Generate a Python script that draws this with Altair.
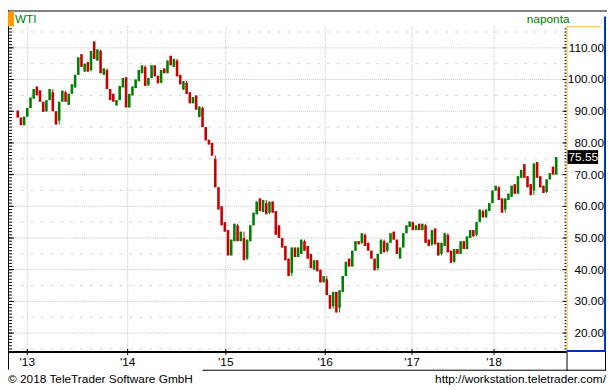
import altair as alt
import pandas as pd

# ---- data (bar index, open, close) ----
opens = [90.2, 88.0, 85.6, 88.3, 91.0, 94.0, 97.8, 96.6, 93.0, 90.0,
         93.5, 96.0, 90.0, 87.0, 93.0, 96.0, 92.0, 95.5, 97.5, 101.5,
         108.0, 102.5, 105.5, 103.0, 112.0, 106.0, 109.0, 101.5, 103.0, 97.0,
         95.5, 91.8, 93.5, 97.5, 100.7, 91.2, 95.0, 97.3, 99.5, 102.0,
         104.0, 98.2, 100.5, 104.5, 101.2, 99.0, 103.5, 102.0, 107.5, 104.0,
         106.0, 101.5, 96.8, 99.0, 96.0, 92.5, 95.0, 88.2, 91.0, 85.0,
         81.0, 80.0, 75.0, 66.0, 60.0, 55.0, 52.5, 44.5, 49.0, 54.0,
         49.0, 50.0, 43.5, 49.0, 54.0, 57.5, 62.5, 58.2, 61.0, 58.0,
         61.5, 58.5, 54.0, 50.0, 47.5, 43.5, 39.0, 47.0, 44.0, 45.0,
         49.0, 47.5, 45.0, 40.0, 43.0, 40.0, 36.0, 37.0, 32.0, 28.5,
         33.0, 28.0, 33.0, 38.0, 43.5, 41.0, 46.0, 49.0, 48.5, 51.0,
         48.5, 46.0, 43.5, 40.5, 45.0, 49.0, 46.0, 48.5, 52.0, 49.5,
         43.5, 47.0, 51.5, 53.5, 55.0, 52.5, 54.5, 52.5, 54.0, 49.5,
         48.0, 53.0, 48.5, 45.0, 47.5, 51.0, 46.0, 42.5, 46.5, 45.0,
         49.0, 46.5, 50.0, 52.5, 51.0, 55.0, 58.5, 56.5, 58.5, 61.0,
         65.0, 66.0, 62.5, 59.0, 62.0, 63.0, 67.0, 64.0, 69.0, 73.3,
         69.5, 67.0, 65.0, 74.0, 69.5, 66.5, 64.5, 68.5, 72.5, 70.0]
closes = [88.0, 85.6, 88.3, 91.0, 94.3, 97.0, 95.0, 93.0, 89.8, 93.5,
          97.0, 90.0, 85.8, 93.0, 96.5, 93.0, 95.5, 98.5, 101.5, 107.0,
          104.0, 105.0, 102.5, 109.0, 106.5, 109.5, 102.0, 103.5, 97.0, 93.5,
          93.0, 93.5, 98.0, 100.5, 91.2, 95.5, 97.8, 100.0, 103.0, 104.5,
          98.0, 100.5, 104.5, 101.0, 98.8, 103.0, 102.0, 106.0, 104.5, 106.5,
          101.0, 98.5, 99.5, 95.5, 92.5, 94.5, 90.5, 91.5, 85.0, 80.8,
          79.5, 76.0, 66.0, 59.0, 54.0, 52.0, 44.5, 49.5, 54.5, 49.0,
          52.0, 43.0, 49.5, 54.0, 58.0, 61.5, 58.5, 62.0, 57.5, 61.5,
          58.0, 51.0, 50.0, 47.0, 43.0, 38.0, 47.0, 44.0, 47.0, 49.5,
          46.0, 43.5, 40.5, 43.0, 39.5, 36.0, 38.0, 32.0, 27.7, 33.0,
          26.5, 33.5, 38.0, 42.5, 41.0, 46.0, 49.0, 48.0, 51.5, 47.5,
          46.0, 43.5, 39.8, 45.0, 49.5, 45.5, 48.5, 51.5, 49.5, 45.0,
          47.0, 51.5, 54.0, 55.2, 52.5, 54.0, 52.5, 54.5, 48.5, 47.5,
          52.5, 48.0, 44.5, 48.5, 51.5, 45.5, 42.2, 46.5, 45.0, 49.0,
          46.5, 50.5, 52.5, 50.5, 55.0, 59.0, 56.5, 59.0, 61.0, 65.0,
          66.5, 62.0, 58.0, 62.5, 64.0, 66.5, 64.0, 69.5, 71.5, 69.0,
          66.0, 63.5, 73.5, 69.0, 66.0, 64.2, 68.5, 70.5, 70.0, 75.55]

year_labels = ["'13", "'14", "'15", "'16", "'17", "'18"]
year_pos = [3.0, 34.5, 65.3, 96.5, 123.75, 149.5]   # bar index where each year starts
major_levels = [20, 30, 40, 50, 60, 70, 80, 90, 100, 110]
half_levels = [15, 25, 35, 45, 55, 65, 75, 85, 95, 105, 115]
minor_levels = list(range(15, 117))
last_price = [75.55]

# ---- layout ----
W, H = 565, 329
FONT = "Liberation Sans"
GREEN, RED = "#008000", "#c80000"
GRID = "#c4c4c4"

xs = alt.Scale(domain=[-1.2, 170.7], nice=False, zero=False)
ys = alt.Scale(domain=[14.36, 116.8], nice=False, zero=False)

prev = [opens[0]] + closes[:-1]
bars = pd.DataFrame({"i": list(range(len(opens))), "open": opens, "close": closes})
bars["lo"] = [min(o, c, p) for o, c, p in zip(opens, closes, prev)]
bars["hi"] = [max(o, c, p) for o, c, p in zip(opens, closes, prev)]
bars["dir"] = ["up" if c >= o else "down" for o, c in zip(opens, closes)]
years = pd.DataFrame({"pos": year_pos, "lab": year_labels})
major_df = pd.DataFrame({"v": major_levels, "t": [f"{v:.2f}" for v in major_levels]})
half_df = pd.DataFrame({"v": half_levels})
minor_df = pd.DataFrame({"v": minor_levels})
last_df = pd.DataFrame({"p": last_price, "t": [f"{p:.2f}" for p in last_price]})
one = pd.DataFrame({"a": [0]})

Y = lambda f: alt.Y(f, scale=ys, axis=None)
X = lambda f: alt.X(f, scale=xs, axis=None)

grid10 = alt.Chart(major_df).mark_rule(color=GRID, strokeDash=[1, 1]).encode(
    y=Y("v:Q"), x=alt.value(0), x2=alt.value(W))
grid5 = alt.Chart(half_df).mark_rule(color="#d4d4d4", strokeDash=[3, 7], strokeDashOffset=-2).encode(
    y=Y("v:Q"), x=alt.value(0), x2=alt.value(W))
gridx = alt.Chart(years).mark_rule(color=GRID, strokeDash=[1, 1]).encode(
    x=X("pos:Q"), y=alt.value(0), y2=alt.value(H))

dir_color = alt.Color("dir:N", scale=alt.Scale(domain=["up", "down"], range=[GREEN, RED]),
                      legend=None)
wicks = alt.Chart(bars).mark_rule(strokeWidth=1).encode(
    x=X("i:Q"), y=Y("lo:Q"), y2="hi:Q", color=dir_color)
candles = alt.Chart(bars).mark_bar(size=2.6).encode(
    x=X("i:Q"), y=Y("open:Q"), y2="close:Q", color=dir_color)

# price labels on the right
ylabels = alt.Chart(major_df).mark_text(font=FONT, fontSize=12, color="black",
                                        align="right", baseline="middle").encode(
    y=Y("v:Q"), x=alt.value(W + 38), text="t:N")

# ticks on the left and right edges of the plot
lminor = alt.Chart(minor_df).mark_rule(color="black").encode(
    y=Y("v:Q"), x=alt.value(0), x2=alt.value(3))
lmajor = alt.Chart(major_df).mark_rule(color="black").encode(
    y=Y("v:Q"), x=alt.value(0), x2=alt.value(5))
rminor = alt.Chart(minor_df).mark_rule(color="black").encode(
    y=Y("v:Q"), x=alt.value(W - 2), x2=alt.value(W))
rmajor = alt.Chart(major_df).mark_rule(color="black").encode(
    y=Y("v:Q"), x=alt.value(W - 4), x2=alt.value(W))

# frame lines
base1 = alt.Chart(one)
top_line = base1.mark_rule(color="black").encode(
    x=alt.value(-1), x2=alt.value(W + 41), y=alt.value(-15.5))
left_line = base1.mark_rule(color="black").encode(
    x=alt.value(-0.5), y=alt.value(-16), y2=alt.value(H + 19))
yellow_v = base1.mark_rule(color="#f0c030").encode(
    x=alt.value(W + 0.5), y=alt.value(0), y2=alt.value(H))
yellow_h = base1.mark_rule(color="#f0c030").encode(
    x=alt.value(W), x2=alt.value(W + 35), y=alt.value(0.5))
blue_v = base1.mark_rule(color="#0030c0", strokeWidth=2).encode(
    x=alt.value(W + 39), y=alt.value(-10), y2=alt.value(H))
blue_h = base1.mark_rule(color="#0030c0", strokeWidth=2).encode(
    x=alt.value(W), x2=alt.value(W + 40), y=alt.value(H))
axis_line = base1.mark_rule(color="black", strokeWidth=2).encode(
    x=alt.value(-1), x2=alt.value(W), y=alt.value(H + 1))
band_bottom = base1.mark_rule(color="black").encode(
    x=alt.value(196), x2=alt.value(W + 40), y=alt.value(H + 19.5))
box_right = base1.mark_rule(color="black").encode(
    x=alt.value(W + 39.5), y=alt.value(H + 1), y2=alt.value(H + 20))
box_left = base1.mark_rule(color="black").encode(
    x=alt.value(W + 0.5), y=alt.value(H + 1), y2=alt.value(H + 20))

year_ticks = alt.Chart(years).mark_rule(color="black").encode(
    x=X("pos:Q"), y=alt.value(H - 2), y2=alt.value(H + 4))
year_text = alt.Chart(years).mark_text(font=FONT, fontSize=12, color="black",
                                       align="center", baseline="middle").encode(
    x=X("pos:Q"), y=alt.value(H + 11), text="lab:N")

# header
orange = base1.mark_rect(color="#ff9900").encode(
    x=alt.value(-1), x2=alt.value(5), y=alt.value(-15), y2=alt.value(0))
wti = base1.mark_text(text="WTI", font=FONT, fontSize=12, color=GREEN,
                      align="left", baseline="middle").encode(
    x=alt.value(6), y=alt.value(-7))
nap = base1.mark_text(text="naponta", font=FONT, fontSize=12, color=GREEN,
                      align="right", baseline="middle").encode(
    x=alt.value(W + 3), y=alt.value(-7))

# footer
copy_t = base1.mark_text(text="\u00a9 2018 TeleTrader Software GmbH", font=FONT,
                         fontSize=12, color="black", align="left",
                         baseline="middle").encode(x=alt.value(-1), y=alt.value(H + 28))
url_t = base1.mark_text(text="http://workstation.teletrader.com/", font=FONT,
                        fontSize=12, color="black", align="right",
                        baseline="middle").encode(x=alt.value(W + 40), y=alt.value(H + 28))

# last price marker
last_box = alt.Chart(last_df).mark_rule(color="black", strokeWidth=14).encode(
    y=Y("p:Q"), x=alt.value(W + 1), x2=alt.value(W + 32))
last_txt = alt.Chart(last_df).mark_text(font=FONT, fontSize=12, color="white",
                                        align="left", baseline="middle").encode(
    y=Y("p:Q"), x=alt.value(W + 2), text="t:N")

chart = alt.layer(
    grid5, grid10, gridx, wicks, candles,
    lminor, lmajor, rminor, rmajor,
    top_line, left_line, yellow_v, yellow_h, blue_v, blue_h,
    axis_line, band_bottom, box_right, box_left,
    year_ticks, year_text, ylabels, orange, wti, nap, copy_t, url_t,
    last_box, last_txt,
).properties(
    width=W, height=H,
    padding={"left": 1, "top": 16, "right": 41, "bottom": 36},
    autosize=alt.AutoSizeParams(type="none"),
    background="white",
).configure_view(stroke=None)

chart.save("out.html", embed_options={"renderer": "svg", "actions": False})
